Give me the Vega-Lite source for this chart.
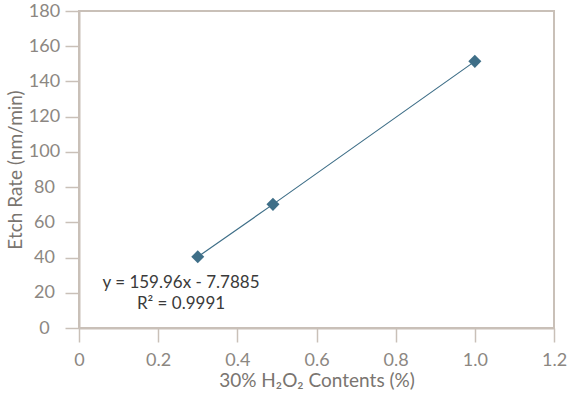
{
  "$schema": "https://vega.github.io/schema/vega-lite/v6.json",
  "width": 475,
  "height": 317,
  "autosize": "none",
  "padding": {"left": 79, "top": 11, "right": 13, "bottom": 68},
  "background": "white",
  "config": {
    "font": "Lato",
    "view": {"stroke": "#C9C0B8", "strokeWidth": 2},
    "axis": {
      "domainColor": "#C9C0B8",
      "domainWidth": 2,
      "tickColor": "#C9C0B8",
      "tickWidth": 1.5,
      "tickSize": 14,
      "grid": false,
      "labelOverlap": false,
      "labelFlush": false,
      "labelFont": "Lato",
      "labelFontSize": 18,
      "labelColor": "#8C8782",
      "titleFont": "Lato",
      "titleFontSize": 19,
      "titleFontWeight": "normal",
      "titleColor": "#7A7570"
    }
  },
  "datasets": {
    "pts": [
      {"conc": 0.3, "rate": 40.4},
      {"conc": 0.49, "rate": 70.2},
      {"conc": 1.0, "rate": 151.4}
    ],
    "notes": [
      {"conc": 0.2577, "rate": 25.4, "label": "y = 159.96x - 7.7885"},
      {"conc": 0.2577, "rate": 13.6, "label": "R² = 0.9991"}
    ]
  },
  "encoding": {
    "x": {"field": "conc", "type": "quantitative", "scale": {"domain": [0, 1.2], "nice": false},
      "axis": {"values": [0, 0.2, 0.4, 0.6, 0.8, 1.0, 1.2], "labelExpr": "datum.value == 0 ? '0' : format(datum.value, '.1f')", "labelPadding": 9, "title": "30% H₂O₂ Contents (%)", "titlePadding": 2}},
    "y": {"field": "rate", "type": "quantitative", "scale": {"domain": [0, 180], "nice": false},
      "axis": {"values": [0, 20, 40, 60, 80, 100, 120, 140, 160, 180], "labelAlign": "center", "labelPadding": 21, "title": "Etch Rate (nm/min)", "titlePadding": 3}}
  },
  "layer": [
    {
      "data": {"name": "pts"},
      "mark": {"type": "line", "color": "#3F6F88", "strokeWidth": 1.2}
    },
    {
      "data": {"name": "pts"},
      "mark": {"type": "point", "shape": "diamond", "filled": true, "color": "#3F6F88", "size": 170, "opacity": 1}
    },
    {
      "data": {"name": "notes"},
      "mark": {"type": "text", "font": "Lato", "fontSize": 17, "color": "#3A3A3A", "align": "center", "baseline": "middle"},
      "encoding": {
        "text": {"field": "label"}
      }
    }
  ]
}
